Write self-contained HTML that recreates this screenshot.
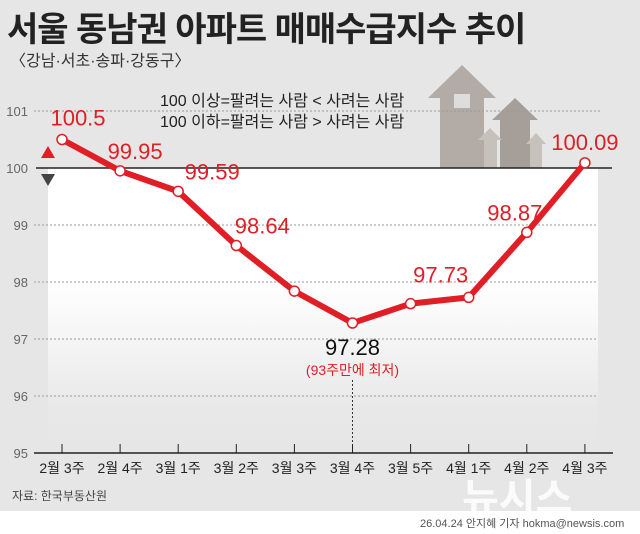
<!DOCTYPE html>
<html><head><meta charset="utf-8">
<style>
body{margin:0;width:640px;height:534px;overflow:hidden;background:#fff;font-family:"Liberation Sans","Noto Sans CJK KR",sans-serif;}
#wrap{position:relative;width:640px;height:534px;}
.bg{position:absolute;left:0;top:0;width:640px;height:511px;background:#e6e6e6;}
.t{position:absolute;white-space:nowrap;}
</style></head><body>
<div id="wrap">
<div class="bg"></div>
<div class="t" style="left:7px;top:2px;font-size:34px;font-weight:bold;color:#222;letter-spacing:-1px">서울 동남권 아파트 매매수급지수 추이</div>
<div class="t" style="left:10px;top:47px;font-size:16px;color:#333">〈강남·서초·송파·강동구〉</div>
<svg id="chart" width="640" height="534" style="position:absolute;left:0;top:0"></svg>
<div class="t" style="left:12px;top:487px;font-size:12px;color:#444">자료: 한국부동산원</div>
<div class="t" style="left:462px;top:466px;font-size:40px;font-weight:bold;color:#fff;opacity:0.85">뉴시스</div>
<div class="t" style="left:420px;top:515px;font-size:11px;color:#555">26.04.24 안지혜 기자 hokma@newsis.com</div>
</div>
<script>
const categories=["2월 3주","2월 4주","3월 1주","3월 2주","3월 3주","3월 4주","3월 5주","4월 1주","4월 2주","4월 3주"];
const values=[100.5,99.95,99.59,98.64,97.84,97.28,97.62,97.73,98.87,100.09];
const labels=["100.5","99.95","99.59","98.64","","97.28","","97.73","98.87","100.09"];
const yTicks=[95,96,97,98,99,100,101];
const labelDx=[16,15,34,26,0,0,0,-28,-12,0];
const labelDy=[-14,-12,-12,-12,0,32,0,-15,-12,-13];
const NS="http://www.w3.org/2000/svg";
const svg=document.getElementById('chart');
const x=i=>62+i*58.1;
const y=v=>168+(100-v)*57;
function el(tag,attrs,parent){const e=document.createElementNS(NS,tag);for(const k in attrs)e.setAttribute(k,attrs[k]);(parent||svg).appendChild(e);return e;}
const defs=el('defs',{});
const g=el('linearGradient',{id:'wg',x1:0,y1:0,x2:0,y2:1},defs);
el('stop',{offset:'0','stop-color':'#fff'},g);el('stop',{offset:'0.4','stop-color':'#fff'},g);el('stop',{offset:'0.85','stop-color':'#e8e8e8'},g);el('stop',{offset:'1','stop-color':'#e6e6e6'},g);
const area=el('rect',{x:48,y:y(100),width:550,height:y(95)-y(100),fill:'url(#wg)'});


const hs=el('g',{fill:'#b3aca6'});


el('polygon',{points:'462,65 496,98 484,98 484,168 440,168 440,98 428,98'},hs);
el('polygon',{points:'515,98 538,120 530,120 530,168 500,168 500,120 492,120',fill:'#a69f99'},hs);
el('polygon',{points:'490,128 502,140 497,140 497,168 484,168 484,140 478,140',fill:'#c7c1bb'},hs);
el('polygon',{points:'536,133 546,144 542,144 542,168 530,168 530,144 526,144',fill:'#c7c1bb'},hs);
el('rect',{x:454,y:94,width:16,height:14,fill:'#ddd'},hs);
yTicks.forEach(v=>{
  if(v!==100&&v!==95){const l=el('line',{x1:34,x2:v===101?600:598,y1:y(v),y2:y(v),stroke:'#999','stroke-dasharray':'2,2'});}
  const t=el('text',{x:28,y:y(v)+5,'text-anchor':'end','font-size':13,fill:'#666','font-family':'Liberation Sans'});
  t.textContent=v;
  
  
});
const bl=el('line',{x1:36,x2:612,y1:y(100),y2:y(100),stroke:'#222','stroke-width':1.5});


const ax=el('line',{x1:34,x2:613,y1:y(95),y2:y(95),stroke:'#222','stroke-width':1.5});


const up=el('polygon',{points:'48,146 55,158 41,158',fill:'#e01e26'});


const dn=el('polygon',{points:'41,174 55,174 48,186',fill:'#444'});


const n1=el('text',{x:160,y:106,'font-size':16,fill:'#222'});n1.textContent='100 이상=팔려는 사람 < 사려는 사람';


const n2=el('text',{x:160,y:127,'font-size':16,fill:'#222'});n2.textContent='100 이하=팔려는 사람 > 사려는 사람';


const mi=values.indexOf(Math.min(...values));
const dl=el('line',{x1:x(mi),x2:x(mi),y1:380,y2:y(95),stroke:'#333','stroke-dasharray':'2,2'});


categories.forEach((c,i)=>{
  const tk=el('line',{x1:x(i),x2:x(i),y1:y(95)-9,y2:y(95),stroke:'#222'});
  
  
  const t=el('text',{x:x(i),y:y(95)+20,'text-anchor':'middle','font-size':14,fill:'#222'});
  t.textContent=c;
  
  
});
const line=el('polyline',{points:values.map((v,i)=>x(i)+','+y(v)).join(' '),fill:'none',stroke:'#e01e26','stroke-width':6,'stroke-linejoin':'round'});


values.forEach((v,i)=>{
  const c=el('circle',{cx:x(i),cy:y(v),r:5,fill:'#fff',stroke:'#e01e26','stroke-width':1.5});
  
  
  if(!labels[i])return;
  const low=i===mi;
  const t=el('text',{x:x(i)+labelDx[i],y:y(v)+labelDy[i],'text-anchor':'middle','font-size':22,fill:low?'#111':'#e01e26','font-family':'Liberation Sans'});
  t.textContent=labels[i];
  
  
});
const ml=el('text',{x:x(mi),y:y(values[mi])+52,'text-anchor':'middle','font-size':14,fill:'#e01e26'});
ml.textContent='(93주만에 최저)';


</script>
</body></html>
